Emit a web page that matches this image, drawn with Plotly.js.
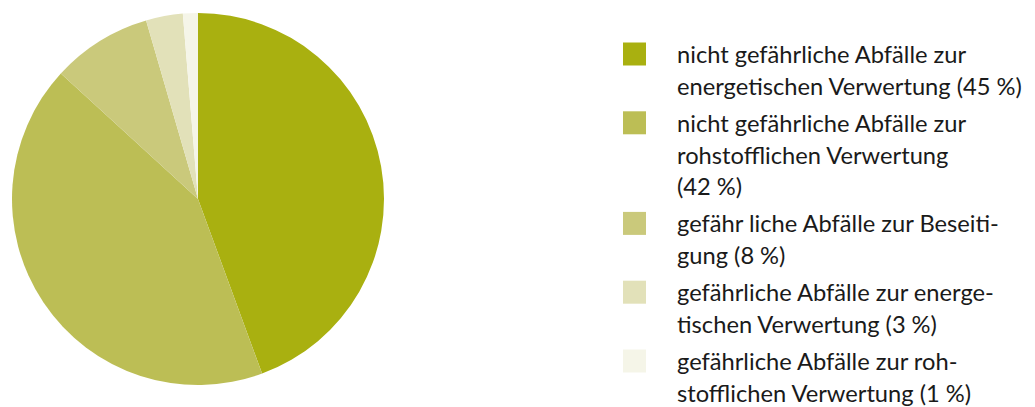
<!DOCTYPE html>
<html>
<head>
<meta charset="utf-8">
<script src="https://cdn.plot.ly/plotly-3.0.1.min.js"></script>
<style>
  html, body { margin: 0; padding: 0; background: #ffffff; }
  #chart { width: 1035px; height: 407px; }
</style>
</head>
<body>
<div id="chart"></div>
<script>
// shares (legend shows rounded values)
const categories = [
    'nicht gefährliche Abfälle zur energetischen Verwertung',
    'nicht gefährliche Abfälle zur rohstofflichen Verwertung',
    'gefährliche Abfälle zur Beseitigung',
    'gefährliche Abfälle zur energetischen Verwertung',
    'gefährliche Abfälle zur rohstofflichen Verwertung'
];
const shares = [44.4, 42.4, 8.7, 3.2, 1.3];
const colors = ['#a9b010', '#bcbe55', '#cac97b', '#e2e1b9', '#f5f5e8'];

// legend text as wrapped in the reference
const legendLines = [
    ['nicht gefährliche Abfälle zur', 'energetischen Verwertung (45\u202F%)'],
    ['nicht gefährliche Abfälle zur', 'rohstofflichen Verwertung', '(42\u202F%)'],
    ['gefähr liche Abfälle zur Beseiti-', 'gung (8\u202F%)'],
    ['gefährliche Abfälle zur energe-', 'tischen Verwertung (3\u202F%)'],
    ['gefährliche Abfälle zur roh-', 'stofflichen Verwertung (1\u202F%)']
];

const W = 1035, H = 407;
const px = x => x / W;
const py = y => 1 - y / H;

const font = {family: 'Lato, "Open Sans", sans-serif', size: 23.7, color: '#1a1a1a'};

const shapes = [];
const annotations = [];
const lineH = 31.8, gap = 37;
let rowY = 54;
legendLines.forEach((lines, i) => {
    shapes.push({
        type: 'rect', xref: 'paper', yref: 'paper',
        x0: px(623), x1: px(646), y0: py(rowY - 11.5), y1: py(rowY + 11.5),
        fillcolor: colors[i], line: {width: 0}
    });
    lines.forEach((t, j) => {
        annotations.push({
            xref: 'paper', yref: 'paper', x: px(675), y: py(rowY + j * lineH),
            xanchor: 'left', yanchor: 'middle', showarrow: false,
            text: t, font: font
        });
    });
    rowY += (lines.length - 1) * lineH + gap;
});

Plotly.newPlot('chart', [{
    type: 'pie',
    labels: categories,
    values: shares,
    sort: false,
    direction: 'clockwise',
    rotation: 0,
    textinfo: 'none',
    hoverinfo: 'label+percent',
    marker: {colors: colors, line: {width: 0}},
    domain: {x: [px(12), px(384)], y: [py(385), py(13)]}
}], {
    width: W,
    height: H,
    margin: {l: 0, r: 0, t: 0, b: 0},
    showlegend: false,
    paper_bgcolor: '#ffffff',
    font: font,
    shapes: shapes,
    annotations: annotations
}, {displayModeBar: false, staticPlot: true});
</script>
</body>
</html>
